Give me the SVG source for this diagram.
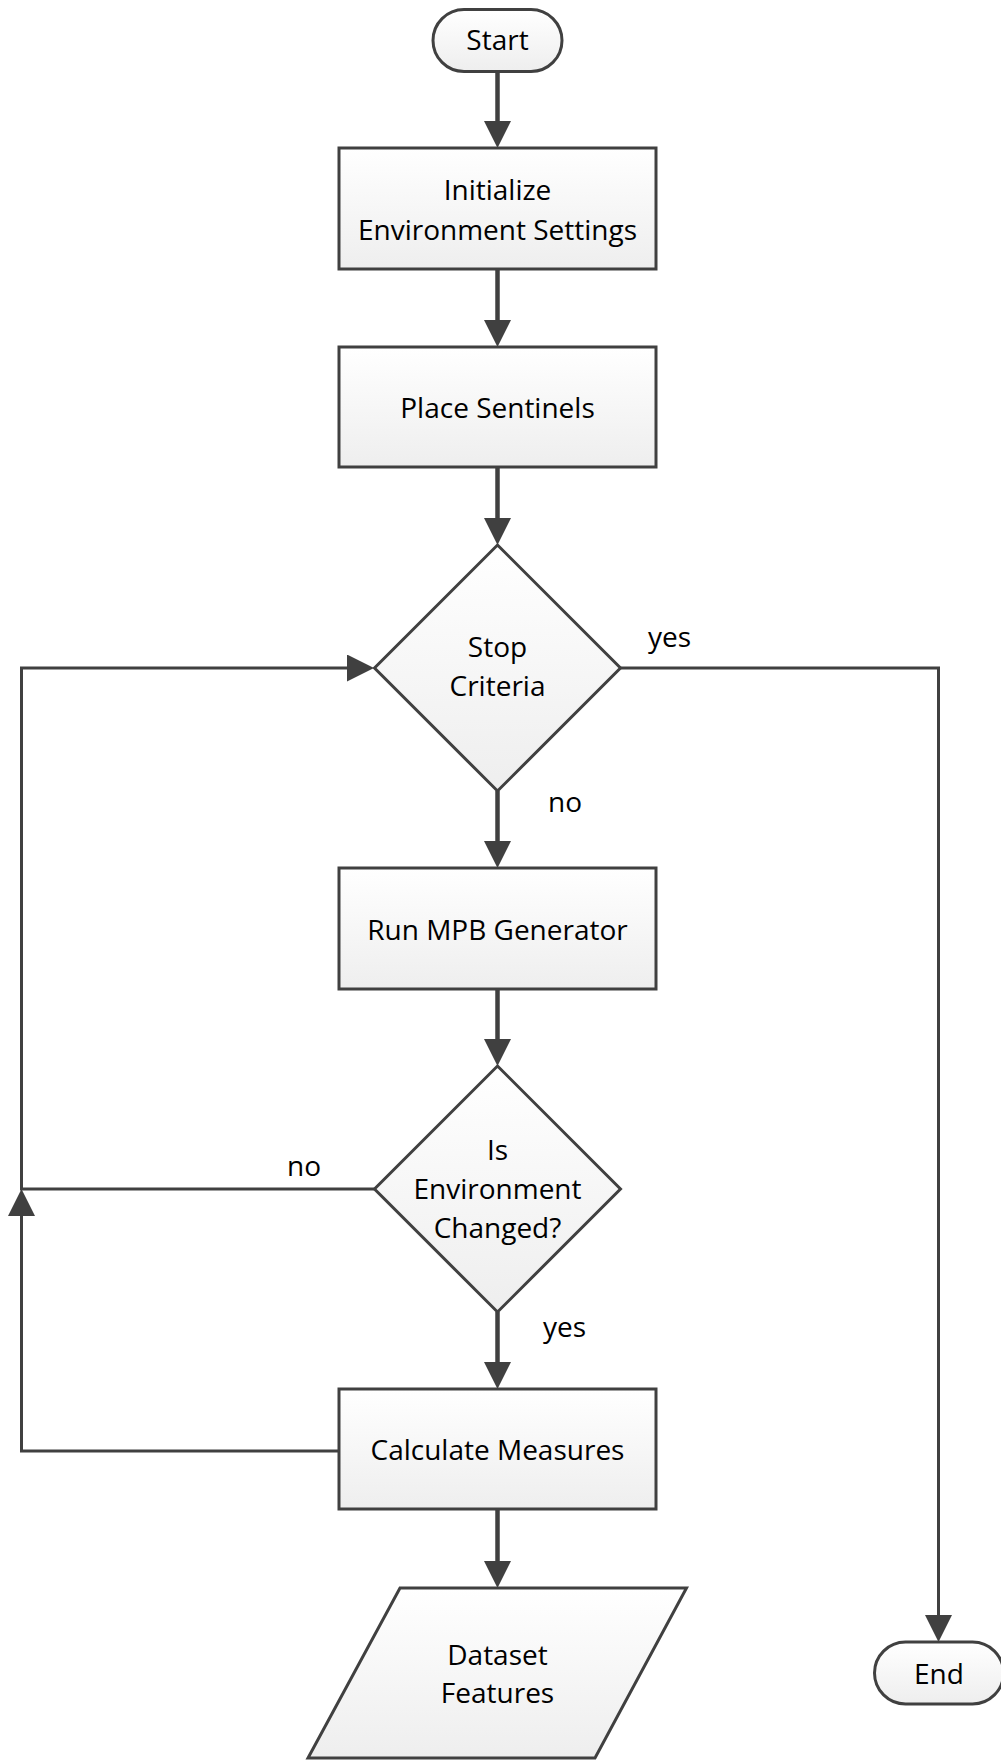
<svg xmlns="http://www.w3.org/2000/svg" width="1001" height="1760" viewBox="0 0 1001 1760">
  <defs>
    <linearGradient id="fillGrad" x1="0" y1="0" x2="0" y2="1">
      <stop offset="0" stop-color="#ffffff"/>
      <stop offset="1" stop-color="#eeeeee"/>
    </linearGradient>
    <marker id="arrow" markerUnits="userSpaceOnUse" markerWidth="28" markerHeight="28" refX="21" refY="13.5" orient="auto">
      <path d="M0,0 L27,13.5 L0,27 Z" fill="#404040"/>
    </marker>
    <style>
      .shape { fill: url(#fillGrad); stroke: #404040; stroke-width: 3; }
      .label { font-family: "Open Sans", "Noto Sans", sans-serif; font-size: 28px; fill: #000; text-anchor: middle; }
      .edge-label { font-family: "Open Sans", "Noto Sans", sans-serif; font-size: 28px; fill: #000; }
      .main { fill: none; stroke: #404040; stroke-width: 4.5; }
      .thin { fill: none; stroke: #404040; stroke-width: 3; }
    </style>
  </defs>
  <rect width="1001" height="1760" fill="#ffffff"/>

  <!-- connectors -->
  <g id="connectors">
    <line class="main" x1="497.5" y1="72" x2="497.5" y2="142" marker-end="url(#arrow)"/>
    <line class="main" x1="497.5" y1="269" x2="497.5" y2="341" marker-end="url(#arrow)"/>
    <line class="main" x1="497.5" y1="467" x2="497.5" y2="539" marker-end="url(#arrow)"/>
    <line class="main" x1="497.5" y1="791" x2="497.5" y2="862" marker-end="url(#arrow)"/>
    <line class="main" x1="497.5" y1="989" x2="497.5" y2="1060" marker-end="url(#arrow)"/>
    <line class="main" x1="497.5" y1="1312" x2="497.5" y2="1383" marker-end="url(#arrow)"/>
    <line class="main" x1="497.5" y1="1509" x2="497.5" y2="1582" marker-end="url(#arrow)"/>
    <!-- yes branch to End -->
    <polyline class="thin" points="620.5,668 938.5,668 938.5,1636" marker-end="url(#arrow)"/>
    <!-- loop back from Calculate Measures -->
    <polyline class="thin" points="339,1451 21.5,1451 21.5,1195" marker-end="url(#arrow)"/>
    <!-- no branch back to Stop Criteria -->
    <polyline class="thin" points="374.5,1189 21.5,1189 21.5,668 368,668" marker-end="url(#arrow)"/>
    <text class="edge-label" x="648" y="647">yes</text>
    <text class="edge-label" x="548" y="812">no</text>
    <text class="edge-label" x="287" y="1176">no</text>
    <text class="edge-label" x="543" y="1337">yes</text>
  </g>

  <g id="start">
    <rect class="shape" x="433" y="9.5" width="129" height="62" rx="31" ry="31"/>
    <text class="label" x="497.5" y="50">Start</text>
  </g>

  <g id="init">
    <rect class="shape" x="339" y="148" width="317" height="121"/>
    <text class="label" x="497.5" y="199.5">Initialize</text>
    <text class="label" x="497.5" y="239.5">Environment Settings</text>
  </g>

  <g id="place">
    <rect class="shape" x="339" y="347" width="317" height="120"/>
    <text class="label" x="497.5" y="418">Place Sentinels</text>
  </g>

  <g id="stop">
    <polygon class="shape" points="497.5,545 620.5,668 497.5,791 374.5,668"/>
    <text class="label" x="497.5" y="657">Stop</text>
    <text class="label" x="497.5" y="696">Criteria</text>
  </g>

  <g id="run">
    <rect class="shape" x="339" y="868" width="317" height="121"/>
    <text class="label" x="497.5" y="940">Run MPB Generator</text>
  </g>

  <g id="changed">
    <polygon class="shape" points="497.5,1066 620.5,1189 497.5,1312 374.5,1189"/>
    <text class="label" x="497.5" y="1160">Is</text>
    <text class="label" x="497.5" y="1199">Environment</text>
    <text class="label" x="497.5" y="1238">Changed?</text>
  </g>

  <g id="measures">
    <rect class="shape" x="339" y="1389" width="317" height="120"/>
    <text class="label" x="497.5" y="1460">Calculate Measures</text>
  </g>

  <g id="dataset">
    <polygon class="shape" points="400,1588 686.5,1588 595,1758 308,1758"/>
    <text class="label" x="497.5" y="1665">Dataset</text>
    <text class="label" x="497.5" y="1703">Features</text>
  </g>

  <g id="end">
    <rect class="shape" x="874.5" y="1642" width="129" height="62" rx="31" ry="31"/>
    <text class="label" x="939" y="1684">End</text>
  </g>
</svg>
